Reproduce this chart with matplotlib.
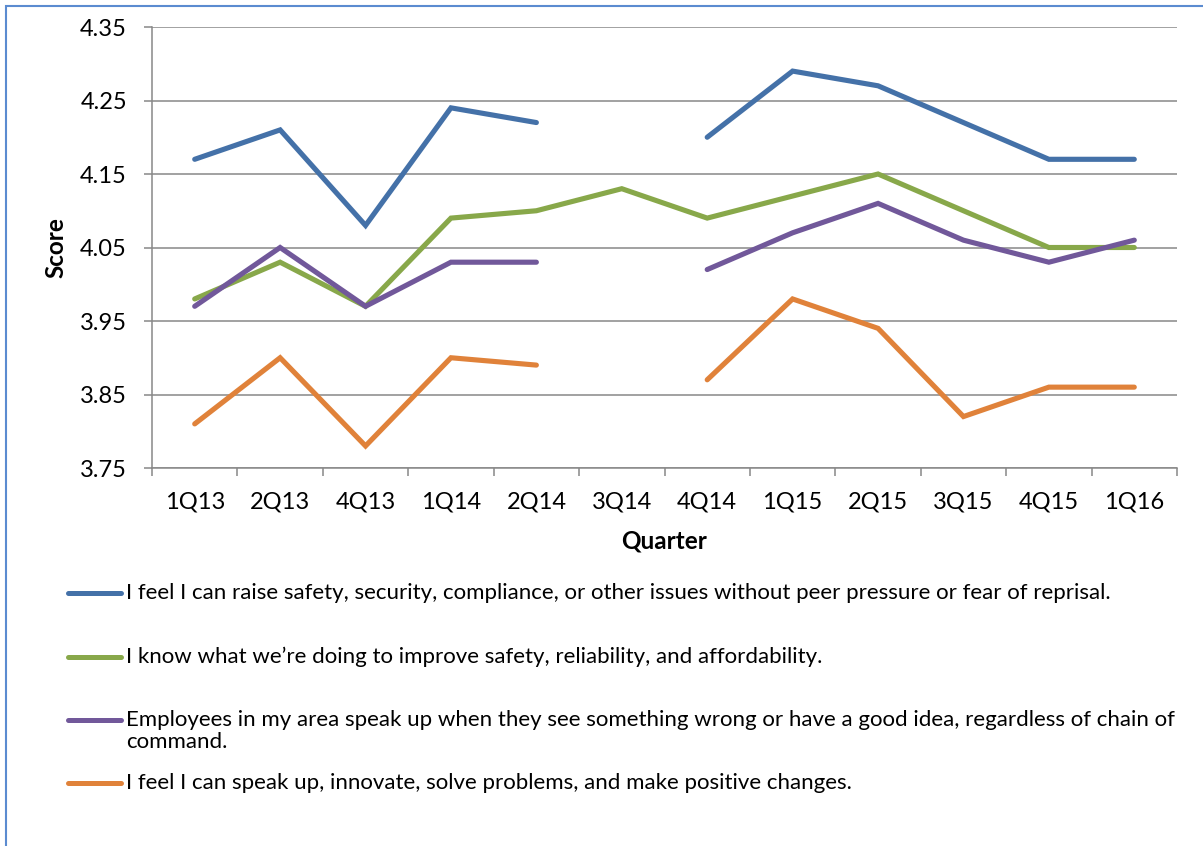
import numpy as np
import matplotlib.pyplot as plt
from matplotlib.lines import Line2D
from matplotlib.patches import Rectangle

plt.rcParams['font.family'] = ['Lato', 'DejaVu Sans']

quarters = ["1Q13", "2Q13", "4Q13", "1Q14", "2Q14", "3Q14",
            "4Q14", "1Q15", "2Q15", "3Q15", "4Q15", "1Q16"]

# nan = no survey result for that quarter
raise_issues = [4.17, 4.21, 4.08, 4.24, 4.22, np.nan, 4.20, 4.29, 4.27, 4.22, 4.17, 4.17]
know_improve = [3.98, 4.03, 3.97, 4.09, 4.10, 4.13, 4.09, 4.12, 4.15, 4.10, 4.05, 4.05]
speak_up_area = [3.97, 4.05, 3.97, 4.03, 4.03, np.nan, 4.02, 4.07, 4.11, 4.06, 4.03, 4.06]
speak_up_self = [3.81, 3.90, 3.78, 3.90, 3.89, np.nan, 3.87, 3.98, 3.94, 3.82, 3.86, 3.86]

labels = [
    "I feel I can raise safety, security, compliance, or other issues without peer pressure or fear of reprisal.",
    "I know what we\u2019re doing to improve safety, reliability, and affordability.",
    "Employees in my area speak up when they see something wrong or have a good idea, regardless of chain of\ncommand.",
    "I feel I can speak up, innovate, solve problems, and make positive changes.",
]
colors = ["#4471A8", "#88A84A", "#71589A", "#E0823A"]
series = [raise_issues, know_improve, speak_up_area, speak_up_self]

fig = plt.figure(figsize=(12.03, 8.46), dpi=100)
W, H = 1203, 846

# outer frame (only top and left edges show)
fig.add_artist(Rectangle((6 / W, -0.1), 1.2, 1 - 6 / H + 0.1, transform=fig.transFigure,
                         fill=False, edgecolor="#5B8BD0", lw=1.5))

ax = fig.add_axes([152 / W, 1 - 468 / H, (1177 - 152) / W, (468 - 27) / H])

x = np.arange(len(quarters))
for vals, c in zip(series, colors):
    ax.plot(x, vals, color=c, lw=3.7, solid_capstyle='round', solid_joinstyle='miter')

grid_c = "#888888"
ax.set_ylim(3.75, 4.35)
ax.set_yticks(np.arange(3.75, 4.351, 0.1))
ax.set_yticklabels(["%.2f" % v for v in np.arange(3.75, 4.351, 0.1)])
ax.yaxis.grid(True, color=grid_c, lw=1.1)
ax.set_axisbelow(True)

ax.set_xlim(-0.5, len(quarters) - 0.5)
ax.set_xticks(x)
ax.set_xticklabels(quarters)
ax.set_xticks(np.arange(-0.5, len(quarters)), minor=True)
ax.tick_params(axis='x', which='major', length=0, pad=17, labelsize=17)
ax.tick_params(axis='x', which='minor', length=6, width=1.1, color=grid_c)
ax.tick_params(axis='y', length=6, width=1.1, color=grid_c, labelsize=17, pad=12)

for s in ["top", "right"]:
    ax.spines[s].set_visible(False)
for s in ["left", "bottom"]:
    ax.spines[s].set_color(grid_c)
    ax.spines[s].set_linewidth(1.1)

ax.set_xlabel("Quarter", fontsize=17.5, fontweight='bold', labelpad=12)
ax.set_ylabel("Score", fontsize=17.5, fontweight='bold', labelpad=9)

# legend drawn by hand so wrapped entries keep the key on the first line
rows = [593, 657, 720, 783]
line_gap = 22
for lab, c, yy in zip(labels, colors, rows):
    fy = 1 - yy / H
    fig.add_artist(Line2D([68 / W, 121 / W], [fy, fy], transform=fig.transFigure,
                          color=c, lw=3.6, solid_capstyle='round'))
    for k, part in enumerate(lab.split("\n")):
        fig.text(126 / W, 1 - (yy + k * line_gap) / H, part, fontsize=16,
                 va='center', ha='left')

fig.savefig("out.png", dpi=100)
